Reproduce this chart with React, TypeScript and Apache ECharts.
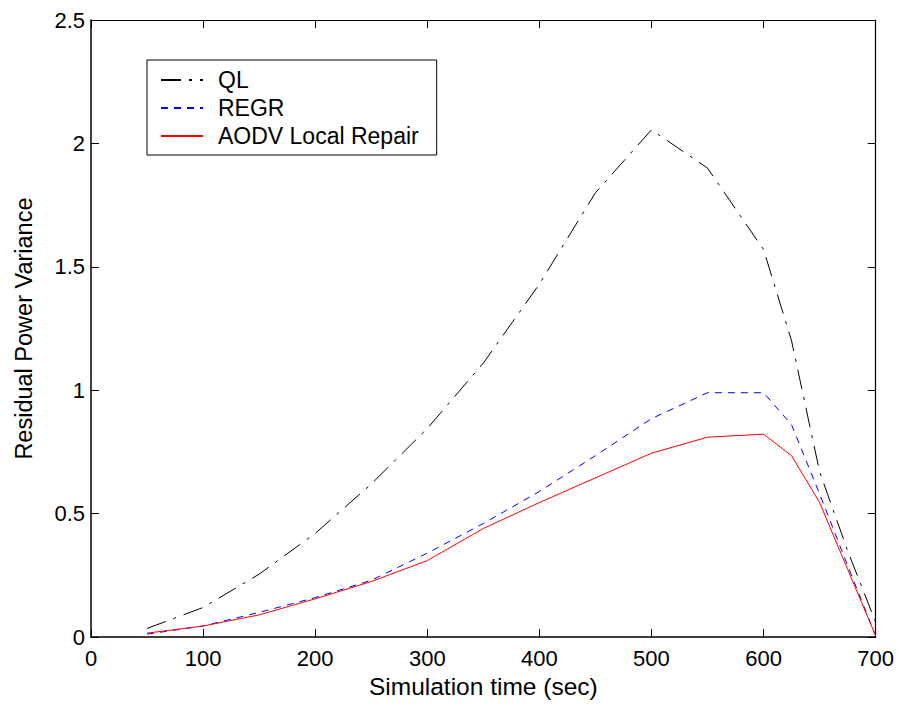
import React, { useEffect, useRef } from "react";
import * as echarts from "echarts";

const simTime = [50, 100, 150, 200, 250, 300, 350, 400, 450, 500, 550, 600, 625, 650, 675, 700];
const qlValues = [0.035, 0.12, 0.255, 0.42, 0.62, 0.845, 1.11, 1.43, 1.8, 2.055, 1.9, 1.57, 1.2, 0.67, 0.35, 0.06];
const regrValues = [0.012, 0.045, 0.1, 0.16, 0.23, 0.34, 0.46, 0.59, 0.735, 0.885, 0.99, 0.99, 0.86, 0.58, 0.29, 0.005];
const aodvValues = [0.016, 0.045, 0.09, 0.155, 0.225, 0.31, 0.44, 0.545, 0.645, 0.745, 0.81, 0.822, 0.735, 0.545, 0.275, 0.005];
const seriesNames = ["QL", "REGR", "AODV Local Repair"];

const FONT = "'Liberation Sans', Arial, Helvetica, sans-serif";

function pairs(vals: number[]) {
  return simTime.map((t, i) => [t, vals[i]]);
}

export default function App() {
  const ref = useRef<HTMLDivElement>(null);
  useEffect(() => {
    if (!ref.current) return;
    const chart = echarts.init(ref.current, undefined, { renderer: "svg" });
    const axisBase = {
      axisTick: { show: true, inside: true, length: 8, lineStyle: { color: "#000", width: 1 } },
      splitLine: { show: false },
    };
    chart.setOption({
      animation: false,
      backgroundColor: "#fff",
      grid: { left: 91, right: 21, top: 20, bottom: 64, containLabel: false },
      legend: {
        left: 147,
        top: 60,
        orient: "vertical",
        data: seriesNames,
        backgroundColor: "#fff",
        borderColor: "#000",
        borderWidth: 1,
        padding: [8.5, 18, 7.5, 13],
        itemWidth: 42,
        itemHeight: 14,
        itemGap: 5,
        itemStyle: { opacity: 0 },
        textStyle: { fontFamily: FONT, fontSize: 23, color: "#000", lineHeight: 23, padding: [0, 0, 0, 10] },
      },
      xAxis: [
        {
          ...axisBase,
          type: "value",
          position: "bottom",
          min: 0,
          max: 700,
          interval: 100,
          name: "Simulation time (sec)",
          nameLocation: "middle",
          nameGap: 35,
          nameTextStyle: { fontFamily: FONT, fontSize: 24.5, color: "#000" },
          axisLine: { show: true, onZero: false, lineStyle: { color: "#000", width: 1.5 } },
          axisLabel: { fontFamily: FONT, fontSize: 22, color: "#000", margin: 10 },
        },
        {
          ...axisBase,
          type: "value",
          position: "top",
          min: 0,
          max: 700,
          interval: 100,
          axisLine: { show: true, onZero: false, lineStyle: { color: "#000", width: 1.2 } },
          axisLabel: { show: false },
        },
      ],
      yAxis: [
        {
          ...axisBase,
          type: "value",
          position: "left",
          min: 0,
          max: 2.5,
          interval: 0.5,
          name: "Residual Power Variance",
          nameLocation: "middle",
          nameRotate: 90,
          nameGap: 55,
          nameTextStyle: { fontFamily: FONT, fontSize: 23.5, color: "#000" },
          axisLine: { show: true, onZero: false, lineStyle: { color: "#000", width: 1.5 } },
          axisLabel: { fontFamily: FONT, fontSize: 22, color: "#000", margin: 6 },
        },
        {
          ...axisBase,
          type: "value",
          position: "right",
          min: 0,
          max: 2.5,
          interval: 0.5,
          axisLine: { show: true, onZero: false, lineStyle: { color: "#000", width: 1.2 } },
          axisLabel: { show: false },
        },
      ],
      series: [
        {
          name: seriesNames[0],
          type: "line",
          data: pairs(qlValues),
          symbol: "none",
          itemStyle: { color: "#000" },
          lineStyle: { color: "#000", width: 1, type: [20, 8, 3, 8] },
        },
        {
          name: seriesNames[1],
          type: "line",
          data: pairs(regrValues),
          symbol: "none",
          itemStyle: { color: "#0000ff" },
          lineStyle: { color: "#0000ff", width: 1, type: [7, 6] },
        },
        {
          name: seriesNames[2],
          type: "line",
          data: pairs(aodvValues),
          symbol: "none",
          itemStyle: { color: "#ff0000" },
          lineStyle: { color: "#ff0000", width: 1, type: "solid" },
        },
      ],
    });
    return () => chart.dispose();
  }, []);
  return <div ref={ref} style={{ width: 897, height: 704, position: "absolute", left: 0, top: 0 }} />;
}
